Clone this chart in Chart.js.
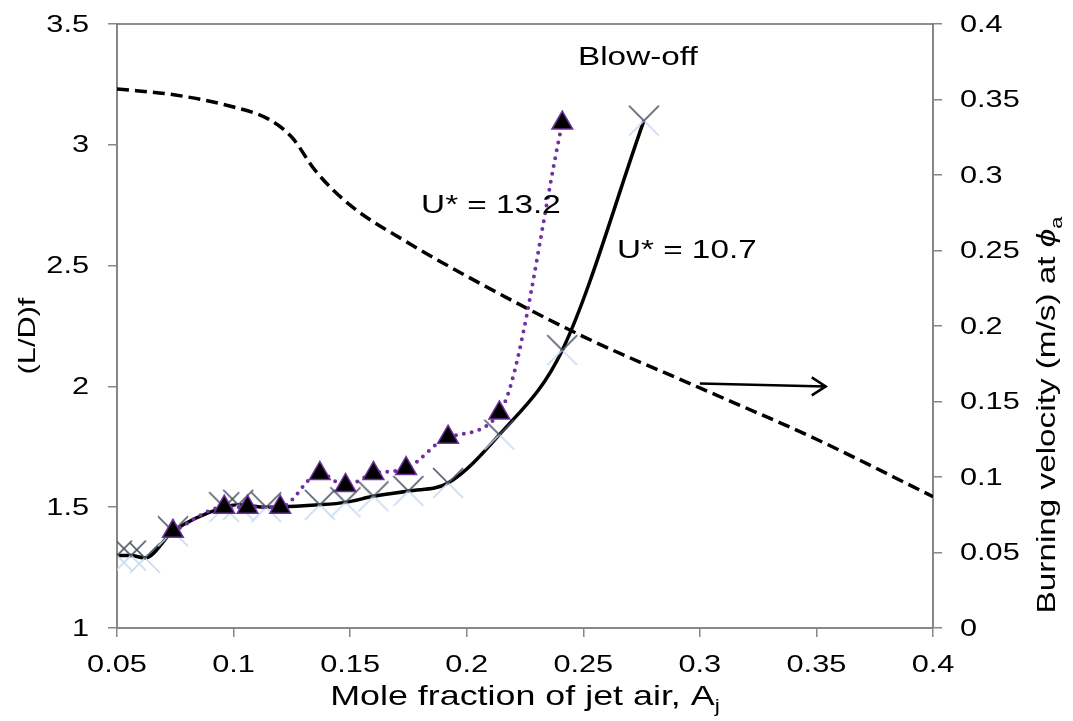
<!DOCTYPE html>
<html>
<head>
<meta charset="utf-8">
<script src="https://cdn.jsdelivr.net/npm/chart.js@4/dist/chart.umd.min.js"></script>
<style>
    html, body { margin: 0; padding: 0; background: #fff; }
</style>
</head>
<body>
<canvas id="flame-chart" width="1073" height="721"></canvas>
<script>
const xTicks = [0.05, 0.1, 0.15, 0.2, 0.25, 0.3, 0.35, 0.4];
const xTickLabels = ["0.05", "0.1", "0.15", "0.2", "0.25", "0.3", "0.35", "0.4"];
const yTicks = [1, 1.5, 2, 2.5, 3, 3.5];
const yTickLabels = ["1", "1.5", "2", "2.5", "3", "3.5"];
const y2Ticks = [0, 0.05, 0.1, 0.15, 0.2, 0.25, 0.3, 0.35, 0.4];
const y2TickLabels = ["0", "0.05", "0.1", "0.15", "0.2", "0.25", "0.3", "0.35", "0.4"];

// U* = 10.7, solid line with x markers
const ajLow = [0.050, 0.056, 0.062, 0.074, 0.096, 0.102, 0.114, 0.137, 0.148, 0.160, 0.175, 0.192, 0.214, 0.241, 0.276];
const ldLow = [1.30, 1.30, 1.29, 1.40, 1.50, 1.51, 1.50, 1.51, 1.52, 1.545, 1.567, 1.60, 1.80, 2.15, 3.10];

// U* = 13.2, dotted line with triangles
const ajHigh = [0.074, 0.096, 0.106, 0.120, 0.137, 0.148, 0.160, 0.174, 0.192, 0.214, 0.241];
const ldHigh = [1.40, 1.50, 1.50, 1.50, 1.64, 1.59, 1.64, 1.66, 1.79, 1.89, 3.09];

// burning velocity at phi_a (right axis)
const ajBurn = [0.05, 0.075, 0.1, 0.115, 0.125, 0.135, 0.15, 0.175, 0.2, 0.25, 0.3, 0.35, 0.4];
const burnVel = [0.357, 0.353, 0.345, 0.337, 0.325, 0.303, 0.280, 0.255, 0.233, 0.193, 0.159, 0.125, 0.087];

const arrowAj = [0.300, 0.354];
const arrowVel = [0.162, 0.160];

const notes = [
    { text: "Blow-off", x: 0.2734, y: 3.36 },
    { text: "U* = 13.2", x: 0.2104, y: 2.747 },
    { text: "U* = 10.7", x: 0.2944, y: 2.56 },
];

const FONT = "'Liberation Sans', Arial, sans-serif";
const AXIS_GREY = "#878787";
// the lettering in the original is set wider than plain Arial
const STRETCH = 1.28;

function makeCross(size) {
    const c = document.createElement("canvas");
    c.width = size;
    c.height = size;
    const g = c.getContext("2d");
    const m = size / 2;
    g.lineWidth = 1.6;
    g.strokeStyle = "#c6d9f1";
    g.beginPath();
    g.moveTo(1, size - 1);
    g.lineTo(m, m);
    g.lineTo(size - 1, size - 1);
    g.stroke();
    g.strokeStyle = "#4a5561";
    g.beginPath();
    g.moveTo(1, 1);
    g.lineTo(m, m);
    g.lineTo(size - 1, 1);
    g.stroke();
    return c;
}

function pairs(xs, ys) {
    return xs.map((x, i) => ({ x: x, y: ys[i] }));
}

function fontOf(p) {
    return `${p.italic ? "italic " : ""}${p.size}px ${FONT}`;
}

// draws a run of text pieces (for subscripts), stretched horizontally
function drawParts(ctx, parts, x, y, align) {
    let total = 0;
    parts.forEach((p) => {
        ctx.font = fontOf(p);
        p.w = ctx.measureText(p.text).width * STRETCH;
        total += p.w;
    });
    let px = x;
    if (align === "center") px = x - total / 2;
    if (align === "right") px = x - total;
    parts.forEach((p) => {
        ctx.font = fontOf(p);
        ctx.save();
        ctx.translate(px, y + (p.dy || 0));
        ctx.scale(STRETCH, 1);
        ctx.fillText(p.text, 0, 0);
        ctx.restore();
        px += p.w;
    });
}

const decorations = {
    id: "decorations",
    afterDraw(chart) {
        const ctx = chart.ctx;
        const area = chart.chartArea;
        const xs = chart.scales.x;
        const ys = chart.scales.y;
        const y2 = chart.scales.y2;
        ctx.save();

        // top frame line
        ctx.strokeStyle = "#6a6a6a";
        ctx.lineWidth = 1.5;
        ctx.beginPath();
        ctx.moveTo(area.left, area.top);
        ctx.lineTo(area.right, area.top);
        ctx.stroke();

        // arrow pointing to the right axis
        const ax0 = xs.getPixelForValue(arrowAj[0]);
        const ay0 = y2.getPixelForValue(arrowVel[0]);
        const ax1 = xs.getPixelForValue(arrowAj[1]);
        const ay1 = y2.getPixelForValue(arrowVel[1]);
        ctx.strokeStyle = "#000";
        ctx.lineWidth = 2.5;
        ctx.beginPath();
        ctx.moveTo(ax0, ay0);
        ctx.lineTo(ax1, ay1);
        ctx.moveTo(ax1 - 14, ay1 - 9);
        ctx.lineTo(ax1, ay1);
        ctx.lineTo(ax1 - 14, ay1 + 9);
        ctx.stroke();

        ctx.fillStyle = "#000";
        ctx.textAlign = "left";
        ctx.textBaseline = "middle";

        // tick labels
        xTicks.forEach((v, i) => {
            drawParts(ctx, [{ text: xTickLabels[i], size: 24 }], xs.getPixelForValue(v), area.bottom + 37, "center");
        });
        yTicks.forEach((v, i) => {
            drawParts(ctx, [{ text: yTickLabels[i], size: 24 }], area.left - 28, ys.getPixelForValue(v) + 1, "right");
        });
        y2Ticks.forEach((v, i) => {
            drawParts(ctx, [{ text: y2TickLabels[i], size: 24 }], area.right + 27, y2.getPixelForValue(v) + 1, "left");
        });

        notes.forEach((n) => {
            drawParts(ctx, [{ text: n.text, size: 26 }], xs.getPixelForValue(n.x), ys.getPixelForValue(n.y), "center");
        });

        // axis titles
        drawParts(ctx, [
            { text: "Mole fraction of jet air, A", size: 28 },
            { text: "j", size: 18, dy: 10 },
        ], (area.left + area.right) / 2, 697, "center");

        ctx.save();
        ctx.translate(28, 336);
        ctx.rotate(-Math.PI / 2);
        drawParts(ctx, [{ text: "(L/D)f", size: 24 }], 0, 0, "center");
        ctx.restore();

        ctx.save();
        ctx.translate(1048, 415);
        ctx.rotate(-Math.PI / 2);
        drawParts(ctx, [
            { text: "Burning velocity (m/s) at ", size: 26 },
            { text: "\u03D5", size: 26, italic: true },
            { text: "a", size: 17, dy: 9 },
        ], 0, 0, "center");
        ctx.restore();

        ctx.restore();
    },
};

function fixedTicks(values) {
    return (scale) => {
        scale.ticks = values.map((v) => ({ value: v }));
    };
}

const chartElement = document.getElementById("flame-chart");

window.flameChart = new Chart(chartElement, {
    type: "line",
    data: {
        datasets: [
            {
                label: "U* = 13.2",
                data: pairs(ajHigh, ldHigh),
                yAxisID: "y",
                borderColor: "#7030a0",
                borderWidth: 4,
                borderDash: [0, 8],
                borderCapStyle: "round",
                cubicInterpolationMode: "monotone",
                pointStyle: "triangle",
                pointRadius: 12,
                pointBackgroundColor: "#000",
                pointBorderColor: "#7030a0",
                pointBorderWidth: 1.5,
            },
            {
                label: "U* = 10.7",
                data: pairs(ajLow, ldLow),
                yAxisID: "y",
                borderColor: "#000",
                borderWidth: 3.5,
                cubicInterpolationMode: "monotone",
                pointStyle: makeCross(32),
                pointRadius: 16,
            },
            {
                label: "Burning velocity",
                data: pairs(ajBurn, burnVel),
                yAxisID: "y2",
                borderColor: "#000",
                borderWidth: 3.5,
                borderDash: [12, 6],
                cubicInterpolationMode: "monotone",
                pointRadius: 0,
            },
        ],
    },
    options: {
        responsive: false,
        animation: false,
        devicePixelRatio: 1,
        layout: { padding: { top: 24, left: 0, right: 0, bottom: 0 } },
        plugins: {
            legend: { display: false },
            tooltip: { enabled: false },
        },
        scales: {
            x: {
                type: "linear",
                min: 0.05,
                max: 0.4,
                afterBuildTicks: fixedTicks(xTicks),
                afterFit: (scale) => { scale.height = 93; },
                grid: { drawOnChartArea: false, color: AXIS_GREY, tickLength: 9, lineWidth: 1.5 },
                border: { color: AXIS_GREY, width: 2 },
                ticks: { display: false },
            },
            y: {
                type: "linear",
                position: "left",
                min: 1,
                max: 3.5,
                afterBuildTicks: fixedTicks(yTicks),
                afterFit: (scale) => { scale.width = 117; },
                grid: { drawOnChartArea: false, color: AXIS_GREY, tickLength: 9, lineWidth: 1.5 },
                border: { color: AXIS_GREY, width: 2 },
                ticks: { display: false },
            },
            y2: {
                type: "linear",
                position: "right",
                min: 0,
                max: 0.4,
                afterBuildTicks: fixedTicks(y2Ticks),
                afterFit: (scale) => { scale.width = 140; },
                grid: { drawOnChartArea: false, color: AXIS_GREY, tickLength: 9, lineWidth: 1.5 },
                border: { color: AXIS_GREY, width: 2 },
                ticks: { display: false },
            },
        },
    },
    plugins: [decorations],
});
</script>
</body>
</html>
